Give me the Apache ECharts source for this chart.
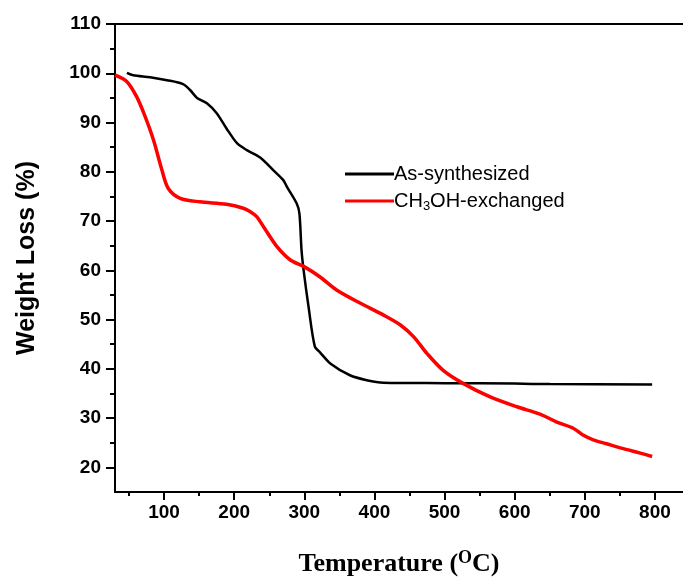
<!DOCTYPE html>
<html>
<head>
<meta charset="utf-8">
<script src="https://cdn.jsdelivr.net/npm/echarts@6/dist/echarts.min.js"></script>
<style>
    html, body { margin: 0; padding: 0; background: #fff; }
    #tgaChart { width: 683px; height: 584px; }
</style>
</head>
<body>
<div id="tgaChart"></div>
<script>
// As-synthesized
var asSynthTemp = [47, 56, 80, 104, 127, 137, 147, 161, 175, 189, 204, 218, 237, 256, 270, 275, 289, 293, 296, 299, 306, 315, 322, 337, 365, 389, 413, 500, 600, 650, 796];
var asSynthWeight = [100.1, 99.6, 99.2, 98.6, 97.8, 96.6, 95.0, 93.9, 91.9, 88.8, 85.8, 84.4, 82.9, 80.3, 78.3, 77.0, 73.6, 71.5, 64.1, 60.0, 52.6, 44.5, 43.4, 41.1, 38.7, 37.7, 37.2, 37.1, 37.0, 36.9, 36.8];
// CH3OH-exchanged
var exchTemp = [30, 47, 61, 73, 85, 97, 106, 123, 151, 189, 213, 223, 232, 242, 261, 280, 299, 322, 346, 380, 413, 437, 456, 475, 498, 527, 565, 603, 636, 660, 684, 698, 712, 731, 755, 779, 796];
var exchWeight = [99.6, 98.3, 95.2, 91.2, 86.4, 80.3, 76.6, 74.6, 73.9, 73.4, 72.6, 71.9, 70.9, 68.8, 64.8, 62.1, 60.8, 58.7, 56.0, 53.3, 50.9, 48.9, 46.5, 43.1, 39.7, 37.0, 34.3, 32.3, 30.8, 29.2, 27.9, 26.5, 25.6, 24.8, 23.8, 22.9, 22.2];

var xMajor = [100, 200, 300, 400, 500, 600, 700, 800];
var xMinor = [50, 150, 250, 350, 450, 550, 650, 750];
var yMajor = [20, 30, 40, 50, 60, 70, 80, 90, 100, 110];
var yMinor = [25, 35, 45, 55, 65, 75, 85, 95, 105];

var seriesNames = ['As-synthesized', 'CH3OH-exchanged'];

var chart = echarts.init(document.getElementById('tgaChart'));

function zip(xs, ys) {
    var out = [];
    for (var i = 0; i < xs.length; i++) {
        out.push([xs[i], ys[i]]);
    }
    return out;
}

var sansFont = '"Liberation Sans", Arial, sans-serif';
var serifFont = '"Liberation Serif", "Times New Roman", serif';

function xAxisOpt(pos, ticks, tickLen, showLine, showLabel) {
    return {
        type: 'value',
        min: 30,
        max: 840,
        position: pos,
        axisLine: { show: showLine, onZero: false, lineStyle: { color: '#000', width: 2 } },
        axisTick: { show: !!ticks, customValues: ticks || [], length: tickLen, lineStyle: { color: '#000', width: 2 } },
        axisLabel: {
            show: showLabel,
            customValues: ticks || [],
            margin: 11,
            fontSize: 19,
            fontWeight: 'bold',
            fontFamily: sansFont,
            color: '#000'
        },
        splitLine: { show: false }
    };
}

function yAxisOpt(ticks, tickLen, showLine, showLabel) {
    return {
        type: 'value',
        min: 15,
        max: 110,
        position: 'left',
        axisLine: { show: showLine, onZero: false, lineStyle: { color: '#000', width: 2 } },
        axisTick: { customValues: ticks, length: tickLen, lineStyle: { color: '#000', width: 2 } },
        axisLabel: {
            show: showLabel,
            customValues: ticks,
            margin: 14,
            fontSize: 19,
            fontWeight: 'bold',
            fontFamily: sansFont,
            color: '#000'
        },
        splitLine: { show: false }
    };
}

var xMain = xAxisOpt('bottom', xMajor, 8, true, true);
xMain.name = 'Temperature ({sup|O}C)';
xMain.nameLocation = 'middle';
xMain.nameGap = 57;
xMain.nameTextStyle = {
    fontFamily: serifFont,
    fontWeight: 'bold',
    fontSize: 26,
    color: '#000',
    lineHeight: 30,
    rich: {
        sup: { fontFamily: serifFont, fontWeight: 'bold', fontSize: 18, color: '#000', verticalAlign: 'top', lineHeight: 30 }
    }
};

var yMain = yAxisOpt(yMajor, 9, true, true);
yMain.name = 'Weight Loss (%)';
yMain.nameLocation = 'middle';
yMain.nameGap = 75;
yMain.nameTextStyle = {
    fontFamily: sansFont,
    fontWeight: 'bold',
    fontSize: 25,
    color: '#000'
};

var option = {
    backgroundColor: '#fff',
    animation: false,
    grid: { left: 115, right: 0, top: 24, bottom: 92, containLabel: false },
    legend: {
        data: seriesNames,
        orient: 'vertical',
        left: 340,
        top: 157,
        icon: 'rect',
        itemWidth: 49,
        itemHeight: 3,
        itemGap: 3,
        formatter: function (name) {
            return name === 'CH3OH-exchanged' ? 'CH{sub|3}OH-exchanged' : name;
        },
        textStyle: {
            fontFamily: sansFont,
            fontSize: 20,
            color: '#000',
            lineHeight: 24,
            padding: [0, 0, 0, -5],
            rich: {
                sub: { fontFamily: sansFont, fontSize: 13, color: '#000', verticalAlign: 'bottom', lineHeight: 24 }
            }
        }
    },
    xAxis: [
        xMain,
        xAxisOpt('bottom', xMinor, 4, false, false),
        xAxisOpt('top', null, 0, true, false)
    ],
    yAxis: [
        yMain,
        yAxisOpt(yMinor, 5, false, false)
    ],
    series: [
        {
            name: seriesNames[0],
            type: 'line',
            xAxisIndex: 0,
            yAxisIndex: 0,
            data: zip(asSynthTemp, asSynthWeight),
            showSymbol: false,
            smooth: 0.3,
            lineStyle: { color: '#000', width: 2.5 },
            itemStyle: { color: '#000' }
        },
        {
            name: seriesNames[1],
            type: 'line',
            xAxisIndex: 0,
            yAxisIndex: 0,
            data: zip(exchTemp, exchWeight),
            showSymbol: false,
            smooth: 0.3,
            lineStyle: { color: '#ff0000', width: 3.5 },
            itemStyle: { color: '#ff0000' }
        }
    ]
};

chart.setOption(option);
</script>
</body>
</html>
